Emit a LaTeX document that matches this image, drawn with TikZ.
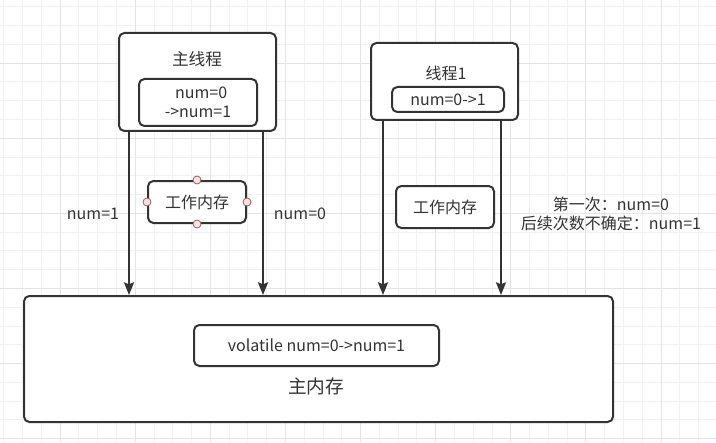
\documentclass[tikz,border=0pt]{standalone}
\usepackage{fontspec}
\setmainfont{Noto Sans CJK SC}
\usetikzlibrary{arrows.meta, calc}

\definecolor{linec}{HTML}{333333}
\definecolor{gridminor}{HTML}{F1F1F1}
\definecolor{gridmajor}{HTML}{E4E4E4}
\definecolor{portfill}{HTML}{FBE3E3}
\definecolor{portdraw}{HTML}{9E5A5A}

\begin{document}
\begin{tikzpicture}[x=0.75pt, y=-0.75pt,
	box/.style={draw=linec, line width=1.5pt, rounded corners=4pt, fill=white, inner sep=0pt},
	txt/.style={text=linec, font=\fontsize{12pt}{14.5pt}\selectfont, align=center, inner sep=0pt},
	arr/.style={draw=linec, line width=1.5pt, -{Stealth[length=9.5pt, width=7.5pt, inset=1.5pt]}},
	port/.style={circle, draw=portdraw, fill=portfill, line width=0.6pt, minimum size=6pt, inner sep=0pt}]
	
	% ----- Background grid -----
	\useasboundingbox (0,0) rectangle (716,442);
	\fill[white] (0,0) rectangle (716,442);
	\foreach \i in {0,...,38} {\draw[gridminor, line width=0.6pt] ({3.66+18.78*\i},0) -- ({3.66+18.78*\i},442);}
	\foreach \i in {0,...,23} {\draw[gridminor, line width=0.6pt] (0,{6.66+18.78*\i}) -- (716,{6.66+18.78*\i});}
	\foreach \i in {0,...,9} {\draw[gridmajor, line width=0.6pt] ({60+75.12*\i},0) -- ({60+75.12*\i},442);}
	\foreach \i in {0,...,5} {\draw[gridmajor, line width=0.6pt] (0,{63+75.12*\i}) -- (716,{63+75.12*\i});}
	
	% ----- Main thread -----
	\node[box, minimum width=117.75pt, minimum height=73.5pt] (zhu) at (197.5,82) {};
	\node[txt, font=\fontsize{12.5pt}{15pt}\selectfont] (zhuT) at (197,59) {主线程};
	\node[box, txt, minimum width=88.5pt, minimum height=35.25pt] (zhuNum) at (198,102.5) {\hspace*{0.4em}num=0\\->num=1};
	
	% ----- Thread 1 -----
	\node[box, minimum width=110.25pt, minimum height=57.75pt] (xc) at (444.5,81.5) {};
	\node[txt] (xcT) at (446,73) {线程1};
	\node[box, txt, minimum width=84pt, minimum height=18.75pt] (xcNum) at (448,99.5) {num=0->1};
	
	% ----- Main memory -----
	\node[box, minimum width=441.75pt, minimum height=94.5pt] (mem) at (318.5,359) {};
	\node[box, txt, minimum width=183.75pt, minimum height=30.75pt] (memVol) at (316.5,345.5) {volatile num=0->num=1};
	\node[txt, font=\fontsize{14pt}{16pt}\selectfont] (memT) at (316,386) {主内存};
	
	% ----- Read / write arrows -----
	\coordinate (a1) at ($(zhu.south west)+(11,0)$);
	\coordinate (a2) at ($(zhu.south east)+(-14,0)$);
	\coordinate (a3) at ($(xc.south west)+(13,0)$);
	\coordinate (a4) at ($(xc.south east)+(-18,0)$);
	\draw[arr] (a1) -- (a1 |- mem.north);
	\draw[arr] (a2) -- (a2 |- mem.north);
	\draw[arr] (a3) -- (a3 |- mem.north);
	\draw[arr] (a4) -- (a4 |- mem.north);
	
	% ----- Working memory -----
	\node[box, txt, minimum width=73.5pt, minimum height=31.5pt] (gz1) at (197,202) {工作内存};
	\node[port] (gz1n) at (gz1.north) {};
	\node[port] (gz1s) at (gz1.south) {};
	\node[port] (gz1w) at (gz1.west) {};
	\node[port] (gz1e) at (gz1.east) {};
	\node[box, txt, minimum width=73.5pt, minimum height=31.5pt] (gz2) at (445,207) {工作内存};
	
	% ----- Labels -----
	\node[txt] (lblL) at (93,214) {num=1};
	\node[txt] (lblR) at (300,214) {num=0};
	\node[txt] (note) at (611,214) {第一次：num=0\\后续次数不确定：num=1};
	
\end{tikzpicture}
\end{document}
